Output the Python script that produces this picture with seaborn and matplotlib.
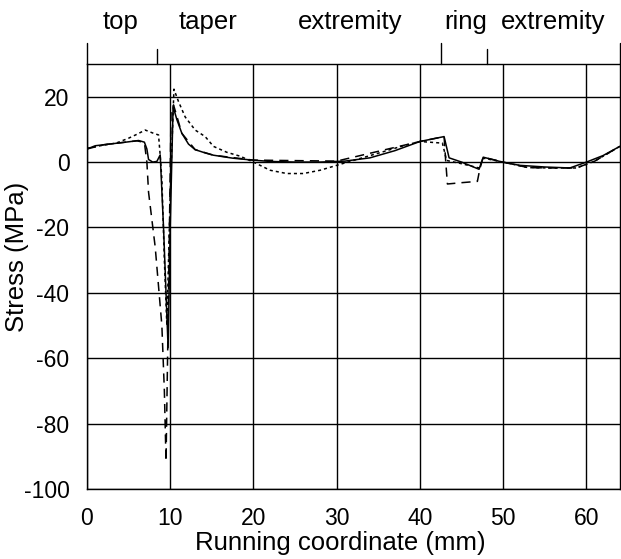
import numpy as np
import pandas as pd
import matplotlib
matplotlib.use("Agg")
import matplotlib.pyplot as plt
import seaborn as sns

# ---- data ----
solid_x = [0.0, 1.0, 2.0, 3.0, 4.0, 5.0, 6.2, 6.9, 7.2, 7.4, 7.9, 8.4, 8.8, 9.2, 9.75, 10.0, 10.35,
           10.8, 11.4, 12.2, 13.0, 14.2, 15.2, 17.5, 19.9, 22.0, 25.0, 28.0, 31.0, 34.0, 37.0,
           40.0, 42.9, 43.5, 45.0, 47.1, 47.6, 49.9, 52.0, 55.0, 58.0, 60.0, 62.0, 64.0]
solid_y = [4.0, 5.0, 5.3, 5.6, 5.9, 6.2, 6.6, 6.1, 4.0, 0.8, 0.0, 0.2, 2.2, -20.0, -56.8, -20.0, 17.0,
           13.0, 8.8, 5.5, 3.8, 2.8, 2.1, 1.2, 0.6, 0.2, 0.0, 0.0, 0.3, 1.3, 3.5,
           6.3, 7.8, 1.3, 0.0, -2.2, 1.5, 0.0, -1.0, -1.5, -1.8, 0.0, 2.0, 4.8]

dash_x = [0.0, 2.0, 4.0, 6.0, 6.9, 7.2, 7.4, 8.2, 9.0, 9.3, 9.5, 9.8, 10.1, 10.4, 11.4, 13.0,
          15.2, 20.0, 30.0, 40.0, 42.9, 43.1, 43.3, 45.0, 46.9, 47.2, 47.6, 50.0, 53.0, 56.0,
          58.8, 61.0, 64.0]
dash_y = [4.0, 5.3, 5.9, 6.5, 6.0, 0.0, -9.2, -26.0, -50.0, -70.0, -91.5, -40.0, 15.0, 17.5, 8.8, 3.8,
          2.1, 0.6, 0.3, 6.3, 7.8, 0.0, -6.7, -6.3, -5.9, -2.0, 1.5, 0.0, -1.7, -1.8,
          -1.8, 0.3, 4.8]

dot_x = [0.0, 2.0, 3.5, 5.0, 6.0, 7.0, 8.0, 8.6, 8.8, 9.0, 9.3, 9.6, 10.0, 10.45, 11.0, 11.8,
         13.0, 14.2, 15.2, 16.8, 18.4, 20.0, 22.0, 24.0, 26.0, 28.0, 30.0, 32.0, 35.1, 38.0,
         40.0, 42.7, 43.2, 45.0, 47.1, 47.6, 50.0, 53.0, 56.0, 58.8, 61.0, 64.0]
dot_y = [4.2, 5.2, 5.8, 7.3, 8.5, 9.8, 8.8, 8.3, 2.0, -5.2, -30.0, -50.0, -10.0, 22.3, 18.5, 13.8,
         9.8, 7.8, 4.8, 3.0, 1.8, 0.0, -2.5, -3.5, -3.5, -2.5, -1.0, 0.5, 2.8, 5.0,
         6.3, 5.8, 0.5, -0.5, -1.8, 1.2, 0.0, -1.7, -1.8, -1.8, 0.3, 4.8]

section_labels = ["top", "taper", "extremity", "ring", "extremity"]
section_label_x = [4.0, 14.6, 31.6, 45.5, 56.0]
tall_marks = [0.0, 42.5, 64.0]
short_marks = [8.4, 48.1]

x_ticks = [0, 10, 20, 30, 40, 50, 60]
y_ticks = [20, 0, -20, -40, -60, -80, -100]

# ---- build frame ----
df = pd.concat([
    pd.DataFrame({"x": solid_x, "y": solid_y, "series": "solid"}),
    pd.DataFrame({"x": dash_x, "y": dash_y, "series": "dash"}),
    pd.DataFrame({"x": dot_x, "y": dot_y, "series": "dot"}),
], ignore_index=True)

sns.set_theme(style="white")
plt.rcParams["font.family"] = ["Liberation Sans", "DejaVu Sans"]
plt.rcParams["axes.unicode_minus"] = False
plt.rcParams["text.color"] = "black"
plt.rcParams["axes.labelcolor"] = "black"

fig = plt.figure(figsize=(6.21, 5.59), dpi=100)
ax = fig.add_axes([0.140, 0.1252, 0.858, 0.7603])

sns.lineplot(data=df, x="x", y="y", style="series", color="black",
             dashes={"solid": "", "dash": (6, 4), "dot": (2, 2)},
             estimator=None, sort=False, units="series", legend=False,
             linewidth=1.1, ax=ax)

ax.set_xlim(0, 64)
ax.set_ylim(-100, 30)
ax.set_xticks(x_ticks)
ax.set_yticks(y_ticks)
ax.set_yticklabels([str(v) for v in y_ticks])
ax.grid(True, color="black", linewidth=1.0)
ax.set_axisbelow(True)
for s in ax.spines.values():
    s.set_color("black")
    s.set_linewidth(1.0)
ax.tick_params(axis="both", direction="out", length=8.6, width=1.0, colors="black",
               labelsize=16.5)
ax.tick_params(axis="x", pad=4)
ax.tick_params(axis="y", pad=4)
ax.set_xlabel("Running coordinate (mm)", fontsize=18.5, color="black")
ax.set_ylabel("Stress (MPa)", fontsize=18.5, color="black")
ax.xaxis.set_label_coords(0.475, -0.098)
ax.yaxis.set_label_coords(-0.109, 0.546)

# section boundary marks and labels above the plot
for xm in tall_marks:
    ax.plot([xm, xm], [30, 36.5], color="black", lw=1.0, clip_on=False)
for xm in short_marks:
    ax.plot([xm, xm], [30, 34.5], color="black", lw=1.0, clip_on=False)
for lab, xl in zip(section_labels, section_label_x):
    ax.text(xl, 43.0, lab, ha="center", va="center", fontsize=18.5, color="black",
            clip_on=False)

fig.savefig("out.png", dpi=100)
